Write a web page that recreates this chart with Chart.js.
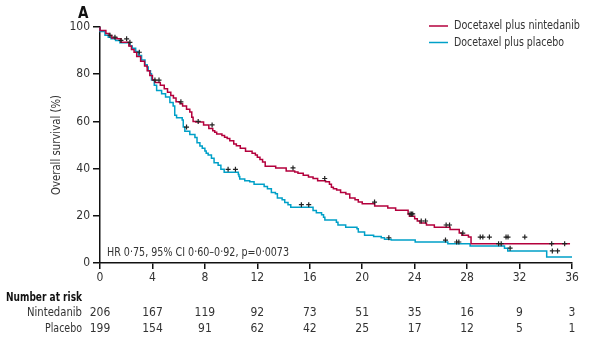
<!DOCTYPE html>
<html><head><meta charset="utf-8">
<script src="https://cdn.jsdelivr.net/npm/chart.js@4/dist/chart.umd.min.js"></script>
<style>html,body{margin:0;padding:0;background:#fff}#wrap{width:589px;height:344px;position:relative}</style>
</head><body><div id="wrap"><canvas id="c" width="589" height="344"></canvas></div>
<script>
const FONT = "'Liberation Sans Narrow','DejaVu Sans Condensed',sans-serif";
const TEXT = '#333';
const RED = '#b4003c';
const BLUE = '#00a0c8';

const xTicks = [0, 4, 8, 12, 16, 20, 24, 28, 32, 36];
const yTicks = [0, 20, 40, 60, 80, 100];
const seriesNames = ['Docetaxel plus nintedanib', 'Docetaxel plus placebo'];
const riskLabels = ['Nintedanib', 'Placebo'];
const riskNintedanib = [206, 167, 119, 92, 73, 51, 35, 16, 9, 3];
const riskPlacebo = [199, 154, 91, 62, 42, 25, 17, 12, 5, 1];
const hrText = 'HR 0·75, 95% CI 0·60–0·92, p=0·0073';

// Kaplan-Meier steps: time (months) and survival (%) after each step
const ninTimes = [0, 0.45, 0.7, 0.9, 1.3, 1.6, 2.2, 2.4, 2.6, 2.8, 3.1, 3.4, 3.6, 3.8, 4.0, 4.2, 4.6, 4.9, 5.15, 5.4, 5.6, 5.8, 6.1, 6.3, 6.6, 6.85, 7.0, 7.1, 7.3, 7.9, 8.3, 8.6, 8.75, 8.9, 9.3, 9.5, 9.7, 9.9, 10.2, 10.4, 10.7, 11.1, 11.6, 11.85, 12.0, 12.2, 12.4, 12.6, 13.4, 14.2, 14.85, 15.1, 15.5, 15.9, 16.25, 16.6, 17.2, 17.5, 17.65, 17.8, 18.05, 18.35, 18.75, 19.05, 19.45, 19.7, 20.0, 20.95, 21.95, 22.55, 23.5, 23.6, 24.0, 24.2, 24.4, 24.9, 25.5, 26.7, 27.4, 27.6, 28.1, 28.3, 34.1, 35.85];
const ninSurv = [100, 98.5, 97.2, 96.4, 95.3, 95.0, 93.5, 92.0, 90.5, 89.3, 87.5, 85.5, 83.5, 81.5, 79.5, 77.5, 76.5, 75.3, 73.8, 72.4, 71.0, 69.9, 68.3, 67.5, 66.5, 65.2, 64.0, 61.8, 60.0, 59.7, 58.5, 57.0, 56.0, 55.4, 54.7, 54.0, 53.3, 52.8, 51.8, 50.4, 49.7, 48.6, 47.3, 46.5, 45.8, 44.8, 43.9, 42.8, 41.0, 40.3, 39.0, 38.6, 38.0, 37.2, 36.4, 35.8, 34.9, 34.4, 33.4, 32.1, 31.5, 30.9, 29.9, 29.2, 27.5, 26.8, 25.8, 25.1, 24.2, 23.3, 22.3, 20.8, 19.8, 18.7, 17.8, 16.9, 16.1, 15.2, 14.2, 12.7, 11.8, 11.0, 8.2, 8.2];

const plaTimes = [0, 0.38, 0.63, 0.84, 1.19, 1.52, 2.28, 2.46, 2.72, 2.92, 3.17, 3.43, 3.6, 3.68, 3.85, 3.93, 4.14, 4.32, 4.7, 5.0, 5.33, 5.58, 5.7, 5.84, 6.27, 6.35, 6.47, 6.85, 7.24, 7.4, 7.62, 7.8, 8.0, 8.1, 8.25, 8.5, 8.7, 9.01, 9.22, 9.47, 10.55, 10.6, 10.66, 11.04, 11.42, 11.75, 12.52, 12.77, 13.07, 13.38, 13.53, 13.89, 14.09, 14.34, 14.55, 16.25, 16.5, 16.9, 17.05, 17.15, 18.03, 18.15, 18.74, 19.6, 19.7, 20.18, 20.87, 21.45, 21.7, 22.21, 24.04, 26.53, 28.23, 30.85, 31.1, 34.07, 35.24, 36.0];
const plaSurv = [100, 98.1, 96.5, 95.7, 95.0, 94.3, 93.3, 91.9, 91.0, 89.6, 87.9, 86.0, 84.0, 83.0, 81.5, 80.2, 77.5, 75.3, 73.1, 71.7, 70.3, 68.0, 66.5, 62.6, 61.5, 60.6, 57.6, 55.8, 54.5, 53.2, 51.0, 49.6, 48.6, 47.5, 46.5, 45.8, 44.4, 42.5, 41.4, 39.7, 38.5, 37.5, 36.6, 35.6, 34.9, 34.4, 33.4, 32.4, 31.5, 29.9, 29.3, 27.5, 26.8, 25.6, 24.7, 23.6, 22.2, 21.3, 20.4, 19.4, 18.2, 17.3, 16.1, 15.2, 14.5, 13.1, 11.8, 11.2, 10.7, 10.1, 9.7, 8.9, 8.2, 7.2, 6.3, 5.1, 2.5, 2.5];

// censored observation times (months)
const ninCensor = [2.03, 2.28, 3.0, 4.5, 6.17, 7.49, 8.55, 14.72, 17.14, 20.94, 23.65, 23.75, 23.85, 24.5, 24.83, 26.4, 26.66, 27.67, 29.0, 29.2, 29.7, 30.97, 31.12, 32.4, 34.45, 35.44];
const plaCensor = [0.76, 1.14, 1.6, 4.19, 6.6, 9.77, 10.33, 15.36, 15.92, 22.03, 26.35, 27.2, 27.37, 30.4, 30.6, 31.28, 34.5, 34.9];

function steps(times, surv) { return times.map((t, i) => ({ x: t, y: surv[i] })); }
function stepAt(times, surv, t) {
  let v = surv[0];
  for (let i = 0; i < times.length; i++) { if (times[i] <= t) v = surv[i]; else break; }
  return v;
}
function censorPts(c, times, surv) { return c.map(t => ({ x: t, y: stepAt(times, surv, t) })); }

const textPlugin = {
  id: 'texts',
  afterDraw(chart) {
    const ctx = chart.ctx;
    const xs = chart.scales.x;
    const ca = chart.chartArea;
    ctx.save();
    ctx.fillStyle = '#111';
    ctx.font = 'bold 15px ' + FONT;
    ctx.textAlign = 'left'; ctx.textBaseline = 'middle';
    ctx.fillText('A', 78, 14);

    // y-axis title
    ctx.save();
    ctx.translate(57, (ca.top + ca.bottom) / 2);
    ctx.rotate(-Math.PI / 2);
    ctx.fillStyle = TEXT;
    ctx.font = '11.5px ' + FONT;
    ctx.textAlign = 'center'; ctx.textBaseline = 'middle';
    ctx.fillText('Overall survival (%)', 0, 0, 100);
    ctx.restore();

    // legend
    const leg = [[RED, seriesNames[0], 26, 126], [BLUE, seriesNames[1], 42.5, 110]];
    leg.forEach(([col, lab, y, w]) => {
      ctx.strokeStyle = col; ctx.lineWidth = 1.5;
      ctx.beginPath(); ctx.moveTo(429, y); ctx.lineTo(448, y); ctx.stroke();
      ctx.fillStyle = TEXT; ctx.font = '12px ' + FONT;
      ctx.textAlign = 'left'; ctx.textBaseline = 'middle';
      ctx.fillText(lab, 454, y, w);
    });

    // HR text
    ctx.fillStyle = TEXT; ctx.font = '12px ' + FONT;
    ctx.textAlign = 'left'; ctx.textBaseline = 'middle';
    ctx.fillText(hrText, 107, 252.5, 182);

    // number at risk table
    ctx.fillStyle = '#111'; ctx.font = 'bold 12px ' + FONT;
    ctx.textAlign = 'left';
    ctx.fillText('Number at risk', 6, 298, 76);
    ctx.fillStyle = TEXT; ctx.font = '12px ' + FONT;
    const rows = [[riskLabels[0], riskNintedanib, 313, 55], [riskLabels[1], riskPlacebo, 328.5, 37]];
    rows.forEach(([lab, vals, y, w]) => {
      ctx.textAlign = 'right';
      ctx.fillText(lab, 82, y, w);
      ctx.textAlign = 'center';
      vals.forEach((v, i) => ctx.fillText(String(v), xs.getPixelForValue(xTicks[i]), y));
    });
    ctx.restore();
  }
};

new Chart(document.getElementById('c'), {
  type: 'line',
  data: {
    datasets: [
      { label: seriesNames[0], data: steps(ninTimes, ninSurv), stepped: 'after', borderColor: RED, borderWidth: 1.5, pointRadius: 0, fill: false, order: 1, clip: 4 },
      { label: seriesNames[1], data: steps(plaTimes, plaSurv), stepped: 'after', borderColor: BLUE, borderWidth: 1.5, pointRadius: 0, fill: false, order: 2, clip: 4 },
      { type: 'scatter', label: 'censor1', data: censorPts(ninCensor, ninTimes, ninSurv), pointStyle: 'cross', pointRadius: 2.5, borderColor: '#222', borderWidth: 1.2, showLine: false, order: 0 },
      { type: 'scatter', label: 'censor2', data: censorPts(plaCensor, plaTimes, plaSurv), pointStyle: 'cross', pointRadius: 2.5, borderColor: '#222', borderWidth: 1.2, showLine: false, order: 0 }
    ]
  },
  options: {
    responsive: false,
    devicePixelRatio: 1,
    animation: false,
    layout: { padding: { left: 0, right: 17, top: 27, bottom: 0 } },
    plugins: { legend: { display: false }, tooltip: { enabled: false } },
    scales: {
      x: {
        type: 'linear', min: 0, max: 36,
        afterBuildTicks: s => { s.ticks = xTicks.map(v => ({ value: v })); },
        afterFit: s => { s.height = 81; },
        ticks: { color: TEXT, font: { family: FONT, size: 12 }, padding: 2, maxRotation: 0 },
        grid: { drawOnChartArea: false, drawTicks: true, tickLength: 6, color: '#111', lineWidth: 1.5 },
        border: { display: true, color: '#111', width: 1.5 }
      },
      y: {
        type: 'linear', min: 0, max: 100,
        afterBuildTicks: s => { s.ticks = yTicks.map(v => ({ value: v })); },
        afterFit: s => { s.width = 100; },
        ticks: { color: TEXT, font: { family: FONT, size: 12 }, padding: 3 },
        grid: { drawOnChartArea: false, drawTicks: true, tickLength: 7, color: '#111', lineWidth: 1.5 },
        border: { display: true, color: '#111', width: 1.5 }
      }
    }
  },
  plugins: [textPlugin]
});
</script>
</body></html>
